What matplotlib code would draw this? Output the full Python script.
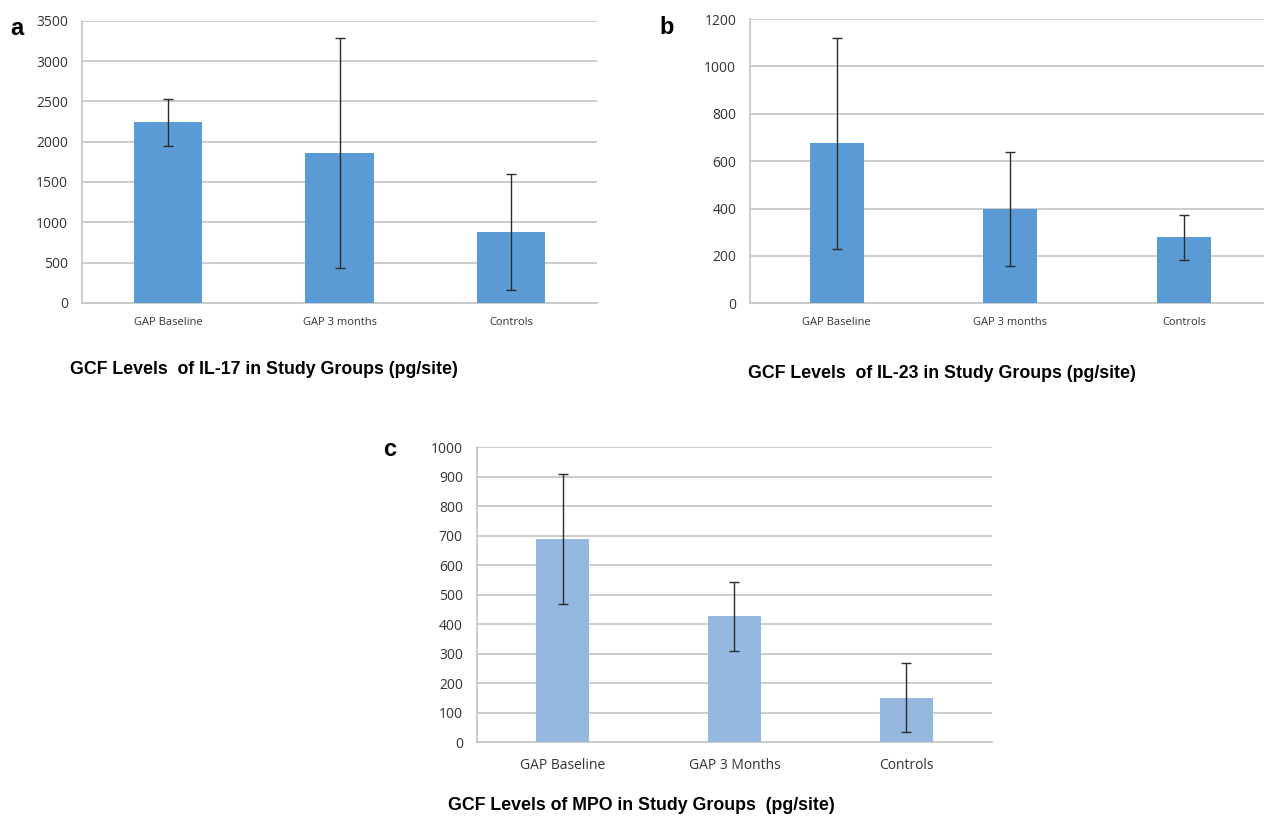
import matplotlib
matplotlib.use("Agg")
import matplotlib.pyplot as plt

# data (means and SD)
groups_a = ["GAP Baseline", "GAP 3 months", "Controls"]
il17_mean = [2240, 1860, 884]
il17_sd = [290, 1425, 718]

groups_b = ["GAP Baseline", "GAP 3 months", "Controls"]
il23_mean = [675, 398, 279]
il23_sd = [444, 242, 95]

groups_c = ["GAP Baseline", "GAP 3 Months", "Controls"]
mpo_mean = [690, 427, 151]
mpo_sd = [220, 117, 117]

plt.rcParams['font.family'] = ['Open Sans', 'DejaVu Sans']

fig = plt.figure(figsize=(12.64, 8.24), dpi=100)

grid_col = '#C8C8C8'


def bar_panel(rect, cats, means, sds, ymax, step, color, bar_w, xfs, xpad):
    ax = fig.add_axes(rect)
    x = range(len(cats))
    ax.bar(x, means, width=bar_w, color=color, zorder=3)
    ax.errorbar(x, means, yerr=sds, fmt='none', ecolor='#2b2b2b',
                elinewidth=1.0, capsize=3.5, capthick=1.0, zorder=4)
    ax.set_xlim(-0.5, len(cats) - 0.5)
    ax.set_ylim(0, ymax)
    ax.set_yticks(range(0, ymax + 1, step))
    ax.set_xticks(list(x))
    ax.set_xticklabels(cats, fontsize=xfs)
    ax.tick_params(axis='x', length=0, pad=xpad, colors='#333333')
    ax.tick_params(axis='y', length=0, pad=10, labelsize=10, colors='#333333')
    ax.yaxis.grid(True, color=grid_col, linewidth=1.3, zorder=0)
    ax.set_axisbelow(True)
    for s in ['top', 'right']:
        ax.spines[s].set_visible(False)
    for s in ['left', 'bottom']:
        ax.spines[s].set_color(grid_col)
        ax.spines[s].set_linewidth(1.3)
    return ax


bar_panel([0.0649, 0.6323, 0.4074, 0.3426], groups_a, il17_mean, il17_sd,
          3500, 500, '#5B9BD5', 0.40, 8, 10)
bar_panel([0.5934, 0.6319, 0.4118, 0.3450], groups_b, il23_mean, il23_sd,
          1200, 200, '#5B9BD5', 0.31, 8, 10)
bar_panel([0.3771, 0.0992, 0.4079, 0.3580], groups_c, mpo_mean, mpo_sd,
          1000, 100, '#95B8E0', 0.31, 10, 11)

# panel letters
fig.text(0.008, 0.965, 'a', fontsize=17, fontweight='bold', family='Liberation Sans', va='center')
fig.text(0.522, 0.967, 'b', fontsize=17, fontweight='bold', family='Liberation Sans', va='center')
fig.text(0.303, 0.455, 'c', fontsize=17, fontweight='bold', family='Liberation Sans', va='center')

# titles under each chart
title_kw = dict(fontsize=12.8, fontweight='bold', family='Liberation Sans', va='center', ha='center')
fig.text(0.2085, 1 - 370 / 824, 'GCF Levels  of IL-17 in Study Groups (pg/site)', **title_kw)
fig.text(0.7455, 1 - 374 / 824, 'GCF Levels  of IL-23 in Study Groups (pg/site)', **title_kw)
fig.text(0.5075, 1 - 806 / 824, 'GCF Levels of MPO in Study Groups  (pg/site)', **title_kw)

fig.savefig('out.png', dpi=100)
